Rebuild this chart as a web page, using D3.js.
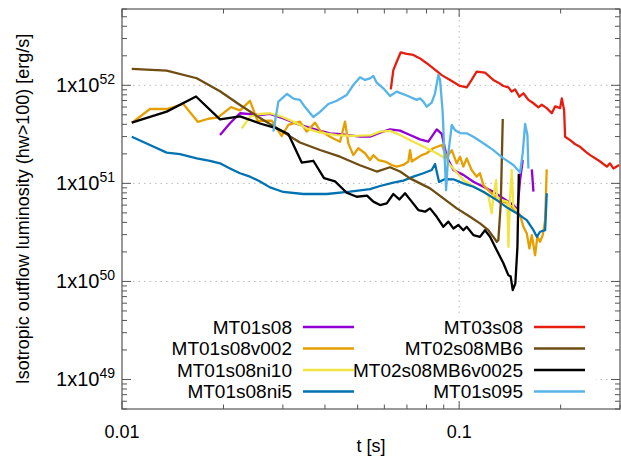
<!DOCTYPE html>
<html>
<head>
<meta charset="utf-8">
<script src="https://cdn.jsdelivr.net/npm/d3@7"></script>
<style>
  body { margin: 0; background: #fff; }
  text { font-family: "Liberation Sans", Arial, Helvetica, sans-serif; fill: #000; }
</style>
</head>
<body>
<script>
// Chart size
const SVG_WIDTH = 621;
const SVG_HEIGHT = 474;
const MARGIN = { top: 9, right: 1, bottom: 65, left: 122 };
const CHART_WIDTH = SVG_WIDTH - MARGIN.left - MARGIN.right;
const CHART_HEIGHT = SVG_HEIGHT - MARGIN.top - MARGIN.bottom;

// Data: [t (s), luminosity (erg/s)], null = gap
const mt01s08 = [[0.01953,3.11e51],[0.02091,4.1e51],[0.02239,5.19e51],[0.02567,4.98e51],[0.02748,5.1e51],[0.0301,4.6e51],[0.03372,3.94e51],[0.0378,3.51e51],[0.0414,3.24e51],[0.04433,3.17e51],[0.05081,2.99e51],[0.05441,2.99e51],[0.05826,3.29e51],[0.06237,3.55e51],[0.06678,3.45e51],[0.0715,3.11e51],[0.07655,2.81e51],[0.08103,2.66e51],[0.08581,3.55e51],[0.0888,3.19e51],[0.09188,1.87e51],[0.09613,1.37e51],[0.1029,1.22e51],[0.1102,1.04e51],[0.118,9.23e50],[0.1263,8.23e50],[0.1353,7.03e50],[0.1448,6.01e50],[0.1489,5.34e50],[0.1516,1.08e51],[0.1544,1.73e51],null,[0.1643,1.39e51],[0.1661,8.23e50]];

const mt01s08v002 = [[0.01069,4.13e51],[0.0121,5.73e51],[0.01357,5.73e51],[0.0152,6.45e51],[0.0168,4.23e51],[0.01803,4.56e51],[0.01927,4.71e51],[0.02105,6.0e51],[0.02239,5.56e51],[0.02397,6.95e51],[0.02523,4.33e51],[0.0278,4.36e51],[0.02977,3.04e51],[0.03114,3.94e51],[0.03372,4.26e51],[0.0353,3.37e51],[0.03737,4.16e51],[0.03867,3.46e51],[0.0414,2.99e51],[0.04433,2.66e51],[0.04587,4.26e51],[0.04691,2.56e51],[0.04854,1.94e51],[0.05022,2.28e51],[0.05258,2.03e51],[0.05441,1.73e51],[0.05566,1.94e51],[0.05758,1.73e51],[0.06028,1.67e51],[0.06311,1.54e51],[0.06529,1.48e51],[0.06831,1.54e51],[0.07068,1.67e51],[0.0715,2.18e51],[0.07234,1.67e51],[0.07485,1.8e51],[0.07745,1.94e51],[0.08014,2.03e51],[0.08385,2.28e51],[0.0888,2.46e51],[0.09188,1.87e51],[0.09508,2.18e51],[0.09838,1.6e51],[0.1006,1.87e51],[0.1029,1.48e51],[0.1053,1.8e51],[0.1089,1.37e51],[0.1127,1.17e51],[0.1153,1.267e51],[0.118,9.6e50],[0.122,8.54e50],[0.1263,7.6e50],[0.1323,6.75e50],[0.1385,6.26e50],[0.1448,5.56e50],[0.1516,4.75e50],[0.1551,3.61e50],[0.1587,3.09e50],[0.1616,2.17e50],[0.1643,2.97e50],[0.168,1.85e50],[0.1706,2.85e50],[0.1738,2.54e50],[0.177,2.97e50],[0.1799,4.22e50],[0.1819,1.39e51]];

const mt01s08ni10 = [[0.02265,3.64e51],[0.02397,4.78e51],[0.02567,5.1e51],[0.02748,5.19e51],[0.02942,4.86e51],[0.03223,4.26e51],[0.0353,3.64e51],[0.03867,3.29e51],[0.04334,3.11e51],[0.04854,3.05e51],[0.05441,3.08e51],[0.05826,3.37e51],[0.06237,3.43e51],[0.06678,3.11e51],[0.07314,2.66e51],[0.08014,2.28e51],[0.08581,2.03e51],[0.09082,1.8e51],[0.09398,1.54e51],[0.1029,1.08e51],[0.1127,8.89e50],[0.122,7.6e50],[0.1249,4.95e50],[0.1263,7.3e50],[0.1287,1.08e51],[0.1295,7.03e50],[0.1331,6.75e50],[0.139,6.51e50],[0.14,2.25e50],[0.1415,6.75e50],[0.1432,1.37e51],[0.1448,5.77e50],[0.1482,5.23e50]];

const mt01s08ni5 = [[0.01069,2.99e51],[0.0121,2.46e51],[0.01357,2.06e51],[0.01486,1.99e51],[0.01666,1.8e51],[0.01824,1.7e51],[0.01953,1.6e51],[0.02091,1.42e51],[0.02239,1.267e51],[0.02397,1.17e51],[0.02567,1.046e51],[0.02748,9.1e50],[0.0301,8.17e50],[0.0345,7.79e50],[0.04048,7.79e50],[0.04746,8.23e50],[0.05441,8.75e50],[0.05826,9.4e50],[0.0638,1.016e51],[0.06831,1.067e51],[0.07314,1.17e51],[0.07831,1.267e51],[0.08293,1.37e51],[0.08482,1.577e51],[0.08718,1.033e51],[0.09082,1.107e51],[0.09613,1.1e51],[0.1029,1.0e51],[0.1102,9.23e50],[0.118,8.23e50],[0.1293,6.75e50],[0.1385,5.69e50],[0.1482,4.95e50],[0.1587,4.22e50],[0.1661,3.33e50],[0.17,2.85e50],[0.1738,3.21e50],[0.1799,3.33e50],[0.1819,7.92e50]];

const mt03s08 = [[0.06268,9.09e51],[0.0638,1.43e52],[0.06529,1.74e52],[0.0671,2.17e52],[0.06991,2.09e52],[0.07314,2.04e52],[0.07655,1.88e52],[0.08014,1.68e52],[0.08385,1.49e52],[0.0888,1.27e52],[0.09398,1.135e52],[0.1006,9.84e51],[0.1053,9.53e51],[0.1089,1.135e52],[0.1127,1.38e52],[0.1193,1.35e52],[0.1263,1.135e52],[0.1307,1.064e52],[0.1353,9.84e51],[0.14,9.53e51],[0.1432,8.62e51],[0.1465,9.09e51],[0.1509,7.65e51],[0.1551,8.29e51],[0.1605,7.1e51],[0.1661,6.56e51],[0.1718,5.96e51],[0.1758,6.33e51],[0.1819,5.85e51],[0.1883,5.19e51],[0.1926,6.1e51],[0.1993,5.85e51],[0.2016,7.36e51],[0.2048,5.59e51],[0.2062,2.99e51],[0.2134,2.76e51],[0.2205,2.52e51],[0.2284,2.36e51],[0.2366,2.12e51],[0.2446,1.94e51],[0.2532,1.8e51],[0.2619,1.67e51],[0.2742,1.48e51],[0.2801,1.6e51],[0.2869,1.42e51],[0.2982,1.54e51]];

const mt02s08mb6 = [[0.01069,1.47e52],[0.01357,1.41e52],[0.01666,1.18e52],[0.01953,8.7e51],[0.02239,6.3e51],[0.02567,4.63e51],[0.02942,3.49e51],[0.03372,2.61e51],[0.03867,2.19e51],[0.04433,1.87e51],[0.05081,1.53e51],[0.05696,1.32e51],[0.06237,1.46e51],[0.06678,1.32e51],[0.0715,1.125e51],[0.07655,1.0e51],[0.08197,8.89e50],[0.0898,7.03e50],[0.09838,5.56e50],[0.1077,4.56e50],[0.1153,3.91e50],[0.1221,3.33e50],[0.1263,2.85e50],[0.1293,2.54e50],[0.1307,2.64e50],[0.1329,6.26e50],[0.1347,4.53e51]];

const mt02s08mb6v0025 = [[0.01069,4.16e51],[0.01357,5.39e51],[0.01658,7.69e51],[0.01953,4.49e51],[0.02239,4.83e51],[0.02567,4.08e51],[0.02877,3.64e51],[0.03114,3.19e51],[0.03412,1.63e51],[0.03694,1.7e51],[0.03974,1.13e51],[0.04284,1.046e51],[0.0464,8.03e50],[0.04968,7.3e50],[0.0533,7.51e50],[0.05566,6.51e50],[0.05826,6.01e50],[0.06099,6.26e50],[0.0638,7.79e50],[0.06646,6.86e50],[0.0691,7.92e50],[0.07234,6.51e50],[0.07567,5.34e50],[0.07922,5.14e50],[0.08197,5.56e50],[0.08581,4.56e50],[0.08978,3.61e50],[0.0929,4.07e50],[0.09613,3.47e50],[0.09947,3.76e50],[0.1029,3.33e50],[0.1053,3.61e50],[0.1102,2.97e50],[0.1153,2.85e50],[0.1193,3.33e50],[0.1235,2.85e50],[0.1293,2.08e50],[0.1353,1.53e50],[0.1399,1.16e50],[0.1422,1.12e50],[0.1442,8.15e49],[0.1468,9.57e49],[0.1489,2.25e50],[0.1503,1.25e51]];

const mt01s095 = [[0.02811,3.37e51],[0.02909,6.82e51],[0.03087,8.16e51],[0.03238,7.27e51],[0.03372,7.1e51],[0.0349,6.0e51],[0.03694,4.75e51],[0.03867,5.35e51],[0.04092,6.45e51],[0.04334,6.95e51],[0.0464,7.98e51],[0.04854,1.007e52],[0.05081,1.206e52],[0.05258,1.135e52],[0.05441,1.178e52],[0.05566,1.244e52],[0.05696,1.064e52],[0.05959,9.31e51],[0.06237,7.78e51],[0.06529,8.62e51],[0.06991,7.87e51],[0.07485,7.1e51],[0.07655,7.36e51],[0.07831,6.82e51],[0.08014,6.05e51],[0.08293,6.65e51],[0.08482,8.29e51],[0.08676,1.274e52],[0.08777,1.135e52],[0.08928,5.59e51],[0.09052,1.94e51],[0.09146,8.5e50],[0.0929,2.03e51],[0.09508,3.94e51],[0.09724,3.49e51],[0.1006,3.26e51],[0.1053,3.24e51],[0.1102,2.99e51],[0.118,2.56e51],[0.1263,2.18e51],[0.1353,1.8e51],[0.1448,1.54e51],[0.1516,1.29e51],[0.1544,2.03e51],[0.1569,4.03e51],[0.1594,3.11e51],[0.1605,1.42e51]];

// Series, in plotting order (legend fills column by column)
const seriesNames = ["MT01s08", "MT01s08v002", "MT01s08ni10", "MT01s08ni5",
                     "MT03s08", "MT02s08MB6", "MT02s08MB6v0025", "MT01s095"];
const seriesData = [mt01s08, mt01s08v002, mt01s08ni10, mt01s08ni5,
                    mt03s08, mt02s08mb6, mt02s08mb6v0025, mt01s095];
const seriesColors = ["#9400d3", "#e69f00", "#f0e442", "#0072b2",
                      "#e51e10", "#6e4c12", "#000000", "#56b4e9"];

// Axis settings
const X_DOMAIN = [0.01, 0.3];
const Y_DOMAIN = [5e48, 6e52];
const xTickLabels = [[0.01, "0.01"], [0.1, "0.1"]];
const yTickExponents = [49, 50, 51, 52];
const X_TITLE = "t [s]";
const Y_TITLE = "Isotropic outflow luminosity (hw>100) [erg/s]";

const svg = d3.select("body")
  .append("svg")
  .attr("width", SVG_WIDTH)
  .attr("height", SVG_HEIGHT);

const chartGroup = svg.append("g")
  .attr("transform", `translate(${MARGIN.left}, ${MARGIN.top})`);

const xScale = d3.scaleLog().domain(X_DOMAIN).range([0, CHART_WIDTH]);
const yScale = d3.scaleLog().domain(Y_DOMAIN).range([CHART_HEIGHT, 0]);

const isMajor = (v) => Math.abs(Math.log10(v) - Math.round(Math.log10(v))) < 1e-9;

// Grid (major only, dotted)
const gridColor = "#b8b8b8";
xScale.ticks().filter(isMajor).forEach((v) => {
  if (xScale(v) < 1) return;
  chartGroup.append("line")
    .attr("x1", xScale(v)).attr("x2", xScale(v))
    .attr("y1", 0).attr("y2", CHART_HEIGHT)
    .attr("stroke", gridColor).attr("stroke-dasharray", "1.5,4");
});
yScale.ticks().filter(isMajor).forEach((v) => {
  chartGroup.append("line")
    .attr("x1", 0).attr("x2", CHART_WIDTH)
    .attr("y1", yScale(v)).attr("y2", yScale(v))
    .attr("stroke", gridColor).attr("stroke-dasharray", "1.5,4");
});

// Lines
const line = d3.line()
  .defined((d) => d !== null)
  .x((d) => xScale(d[0]))
  .y((d) => yScale(d[1]));

seriesData.forEach((data, i) => {
  chartGroup.append("path")
    .datum(data)
    .attr("fill", "none")
    .attr("stroke", seriesColors[i])
    .attr("stroke-width", 2.3)
    .attr("stroke-linejoin", "round")
    .attr("d", line);
});

// Legend (opaque key box)
const legendBox = { x: 4, y: 305, w: 470, h: 88 };
chartGroup.append("rect")
  .attr("x", legendBox.x).attr("y", legendBox.y)
  .attr("width", legendBox.w).attr("height", legendBox.h)
  .attr("fill", "#fff");

const legendCols = [{ textX: 170, lineX: 181 }, { textX: 401, lineX: 412 }];
seriesNames.forEach((name, i) => {
  const col = legendCols[Math.floor(i / 4)];
  const cy = 318 + (i % 4) * 21.5;
  chartGroup.append("line")
    .attr("x1", col.lineX).attr("x2", col.lineX + 51)
    .attr("y1", cy).attr("y2", cy)
    .attr("stroke", seriesColors[i]).attr("stroke-width", 2.3);
  chartGroup.append("text")
    .attr("x", col.textX).attr("y", cy + 6.5)
    .attr("text-anchor", "end")
    .style("font-size", "19px")
    .text(name);
});

// Frame and ticks on all sides
const frameColor = "#555";
chartGroup.append("rect")
  .attr("width", CHART_WIDTH).attr("height", CHART_HEIGHT)
  .attr("fill", "none").attr("stroke", frameColor).attr("stroke-width", 1.2);

xScale.ticks().forEach((v) => {
  const len = isMajor(v) ? 8 : 4.5;
  const x = xScale(v);
  chartGroup.append("line").attr("x1", x).attr("x2", x)
    .attr("y1", CHART_HEIGHT).attr("y2", CHART_HEIGHT - len).attr("stroke", frameColor);
  chartGroup.append("line").attr("x1", x).attr("x2", x)
    .attr("y1", 0).attr("y2", len).attr("stroke", frameColor);
});
yScale.ticks().forEach((v) => {
  const len = isMajor(v) ? 9 : 5;
  const y = yScale(v);
  chartGroup.append("line").attr("x1", 0).attr("x2", len)
    .attr("y1", y).attr("y2", y).attr("stroke", frameColor);
  chartGroup.append("line").attr("x1", CHART_WIDTH).attr("x2", CHART_WIDTH - len)
    .attr("y1", y).attr("y2", y).attr("stroke", frameColor);
});

// Tick labels
xTickLabels.forEach(([v, label]) => {
  chartGroup.append("text")
    .attr("x", xScale(v)).attr("y", CHART_HEIGHT + 29)
    .attr("text-anchor", "middle")
    .style("font-size", "18px")
    .text(label);
});

yTickExponents.forEach((e) => {
  const t = chartGroup.append("text")
    .attr("x", -7).attr("y", yScale(Math.pow(10, e)) + 7)
    .attr("text-anchor", "end")
    .style("font-size", "20px");
  t.append("tspan").text("1x10");
  t.append("tspan").attr("dy", -8).style("font-size", "14px").text(e);
});

// Axis titles
svg.append("text")
  .attr("x", 371).attr("y", 452)
  .attr("text-anchor", "middle")
  .style("font-size", "18px")
  .text(X_TITLE);

svg.append("text")
  .attr("transform", `translate(29, ${MARGIN.top + 200}) rotate(-90)`)
  .attr("text-anchor", "middle")
  .style("font-size", "18px")
  .text(Y_TITLE);
</script>
</body>
</html>
